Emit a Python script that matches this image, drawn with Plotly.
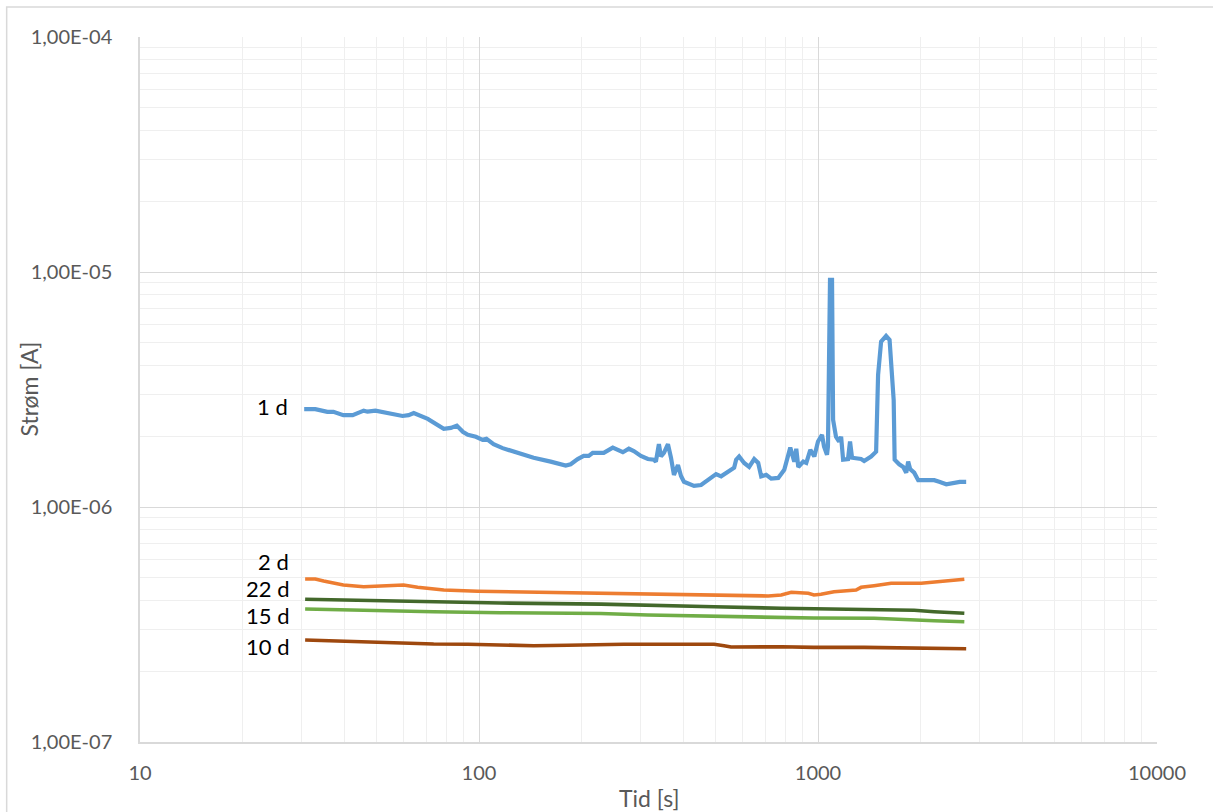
import math
import plotly.graph_objects as go

# Current vs. time for samples of different age (days)

t_1d = [30.5, 32.9, 35.7, 37.2, 39.8, 42.4, 45.7, 46.9, 49.5, 53.8, 56.0, 59.5, 62.0, 64.2,
        70.6, 75.6, 78.7, 82.6, 86.0, 89.6, 92.7, 97.9, 102.4, 105.2, 110.4, 117.4, 123.9,
        144.9, 162.7, 180.2, 186.4, 195.5, 203.6, 210.7, 216.5, 233.3, 248.1, 262.1, 265.7,
        276.7, 286.2, 300.3, 314.9, 328.0, 332.5, 339.4, 344.1, 351.2, 360.9, 368.4, 375.9,
        386.3, 394.3, 402.4, 430.8, 451.9, 474.0, 500.4, 517.8, 543.1, 565.7, 573.4, 585.2,
        605.6, 626.5, 648.3, 666.2, 679.9, 703.4, 727.8, 763.3, 795.2, 828.3, 851.2, 862.8,
        874.7, 905.0, 923.6, 949.2, 975.4, 1000, 1027.6, 1041.7, 1063, 1070, 1085, 1100,
        1108, 1130, 1154, 1170, 1186, 1226, 1243, 1260, 1340, 1368, 1434, 1484, 1504, 1535,
        1588, 1626, 1672, 1683, 1736, 1784, 1821, 1845, 1870, 1922, 1975, 2202, 2278, 2390,
        2620, 2736]
i_1d = [2.61, 2.61, 2.54, 2.54, 2.46, 2.46, 2.57, 2.545, 2.57, 2.51, 2.49, 2.44, 2.46, 2.51,
        2.37, 2.22, 2.15, 2.17, 2.22, 2.09, 2.03, 1.99, 1.93, 1.95, 1.85, 1.78, 1.74,
        1.62, 1.56, 1.50, 1.52, 1.60, 1.65, 1.65, 1.70, 1.70, 1.79, 1.72, 1.71,
        1.77, 1.73, 1.65, 1.60, 1.59, 1.56, 1.85, 1.64, 1.70, 1.85, 1.62, 1.37,
        1.51, 1.355, 1.28, 1.23, 1.24, 1.30, 1.38, 1.35, 1.41, 1.47, 1.59, 1.64,
        1.54, 1.48, 1.60, 1.54, 1.35, 1.37, 1.32, 1.33, 1.44, 1.79, 1.56, 1.77,
        1.48, 1.56, 1.54, 1.75, 1.64, 1.90, 2.03, 1.81, 1.67, 1.81, 9.25, 9.25,
        2.35, 1.99, 1.90, 1.99, 1.59, 1.60, 1.90, 1.62, 1.60, 1.57, 1.64, 1.72, 3.65, 5.05,
        5.34, 5.14, 2.85, 1.59, 1.52, 1.48, 1.40, 1.56, 1.45, 1.40, 1.30, 1.30, 1.28, 1.25,
        1.28, 1.28]

t_2d = [30.7, 32.9, 34.8, 39.8, 45.7, 52.3, 59.9, 65.9, 78.7, 99.2, 129.9, 182.7, 228.6,
        314.9, 493.7, 713.1, 779.1, 834.0, 936.4, 972.6, 1020.6, 1115, 1295, 1340, 1464,
        1643, 2016, 2202, 2423, 2702]
i_2d = [0.494, 0.494, 0.484, 0.4657, 0.458, 0.4624, 0.4657, 0.4553, 0.4434, 0.4378, 0.4348,
        0.4318, 0.4293, 0.4264, 0.4194, 0.4182, 0.4222, 0.4336, 0.4293, 0.4222, 0.4252,
        0.4361, 0.4434, 0.4553, 0.4624, 0.4735, 0.4735, 0.4782, 0.484, 0.4924]

t_22d = [30.7, 46.9, 73.5, 115.8, 228.6, 314.9, 493.7, 779.1, 972.6, 1464, 1922, 2202, 2702]
i_22d = [0.4047, 0.3992, 0.3954, 0.3904, 0.3860, 0.3828, 0.3764, 0.3706, 0.3681, 0.3634,
         0.3634, 0.3585, 0.3529]

t_15d = [30.7, 46.9, 73.5, 115.8, 228.6, 314.9, 493.7, 779.1, 972.6, 1464, 1922, 2202, 2702]
i_15d = [0.3681, 0.3620, 0.3585, 0.3549, 0.3522, 0.3470, 0.3426, 0.3393, 0.3370, 0.3360,
         0.3327, 0.3282, 0.3249]

t_10d = [30.7, 37.2, 46.9, 58.7, 73.5, 92.7, 115.8, 144.9, 182.7, 228.6, 267.5, 394.3,
         493.7, 528.4, 554.2, 779.1, 972.6, 1368, 1922, 2736]
i_10d = [0.2716, 0.2690, 0.2656, 0.2630, 0.2612, 0.2605, 0.2579, 0.2569, 0.2579, 0.2594,
         0.2605, 0.2605, 0.2605, 0.2569, 0.2536, 0.2543, 0.2528, 0.2528, 0.2512, 0.2495]

series_names = ["1 d", "2 d", "22 d", "15 d", "10 d"]
series_t = [t_1d, t_2d, t_22d, t_15d, t_10d]
series_i_uA = [i_1d, i_2d, i_22d, i_15d, i_10d]
series_colors = ["#5B9BD5", "#ED7D31", "#43682B", "#70AD47", "#9E480E"]
series_widths = [4.2, 3.6, 3.6, 3.6, 3.6]
label_y = [2.69e-6, 5.89e-7, 4.52e-7, 3.47e-7, 2.56e-7]

x_ticks = [10, 100, 1000, 10000]
x_ticktext = ["10", "100", "1000", "10000"]
y_ticks = [1e-7, 1e-6, 1e-5, 1e-4]
y_ticktext = ["1,00E-07", "1,00E-06", "1,00E-05", "1,00E-04"]

FONT = "Lato"
GREY_TXT = "#595959"

minor_x = [m * 10 ** d for d in (1, 2, 3) for m in range(2, 10)]
minor_y = [m * 10.0 ** d for d in (-7, -6, -5) for m in range(2, 10)]

fig = go.Figure()
for name, tt, ii, col, w in zip(series_names, series_t, series_i_uA, series_colors, series_widths):
    fig.add_trace(go.Scatter(
        x=tt, y=[v * 1e-6 for v in ii], mode="lines", name=name,
        line=dict(color=col, width=w), showlegend=False,
    ))

# series labels left of each curve
for name, tt, ly in zip(series_names, series_t, label_y):
    fig.add_annotation(
        x=math.log10(tt[0]), y=math.log10(ly), xref="x", yref="y",
        text=name, showarrow=False, xanchor="right", yanchor="middle", xshift=-14,
        font=dict(family=FONT, size=22, color="#000000"),
    )

# axis titles
fig.add_annotation(x=-0.1101, y=0.5, xref="paper", yref="paper", text="Strøm [A]",
                   textangle=-90, showarrow=False, xanchor="center", yanchor="middle",
                   font=dict(family=FONT, size=23, color=GREY_TXT))
fig.add_annotation(x=0.5, y=-0.0794, xref="paper", yref="paper", text="Tid [s]",
                   showarrow=False, xanchor="center", yanchor="middle",
                   font=dict(family=FONT, size=23, color=GREY_TXT))

# cross-style tick marks on the value axis
for v in y_ticks + minor_y:
    fig.add_shape(type="line", xref="paper", yref="y", x0=-0.0068, x1=0.0068,
                  y0=math.log10(v), y1=math.log10(v),
                  line=dict(color="#bfbfbf", width=1.3), layer="above")

# chart area border
fig.add_shape(type="rect", xref="paper", yref="paper", x0=-0.1311, x1=1.07,
              y0=-0.12, y1=1.0426, line=dict(color="#d9d9d9", width=1.5), layer="below")

fig.update_xaxes(
    type="log", range=[1, 4], tickmode="array", tickvals=x_ticks, ticktext=x_ticktext,
    showgrid=True, gridcolor="#d9d9d9", gridwidth=1.3, zeroline=False,
    showline=True, linecolor="#d9d9d9", linewidth=1.5, ticks="",
    tickfont=dict(family=FONT, size=20, color=GREY_TXT), ticklabelstandoff=12,
    minor=dict(tickmode="array", tickvals=minor_x, showgrid=True,
               gridcolor="#efefef", gridwidth=1.3, ticks=""),
)
fig.update_yaxes(
    type="log", range=[-7, -4], tickmode="array", tickvals=y_ticks, ticktext=y_ticktext,
    showgrid=True, gridcolor="#d9d9d9", gridwidth=1.3, zeroline=False,
    showline=True, linecolor="#d9d9d9", linewidth=1.5, ticks="",
    tickfont=dict(family=FONT, size=20, color=GREY_TXT), ticklabelstandoff=22,
    minor=dict(tickmode="array", tickvals=minor_y, showgrid=True,
               gridcolor="#efefef", gridwidth=1.3, ticks=""),
)

fig.update_layout(
    width=1213, height=812,
    margin=dict(l=140, r=56, t=37, b=70),
    paper_bgcolor="white", plot_bgcolor="white",
    font=dict(family=FONT),
)

fig.write_html("out.html")
